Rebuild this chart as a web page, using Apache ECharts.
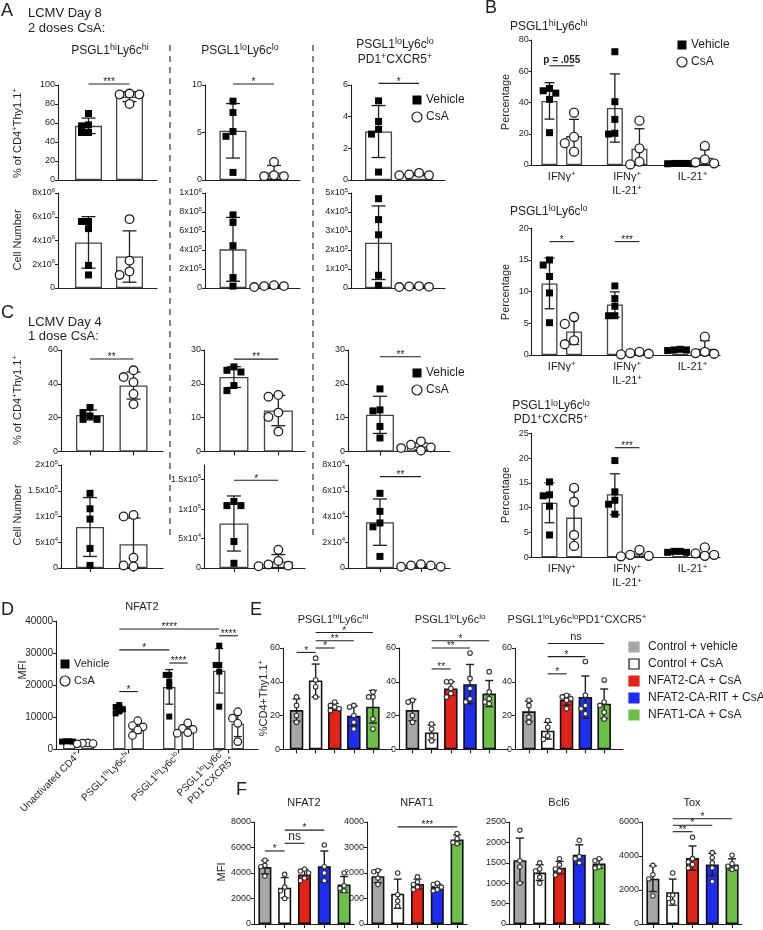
<!DOCTYPE html>
<html>
<head>
<meta charset="utf-8">
<title>CsA / NFAT figure</title>
<script src="https://cdn.jsdelivr.net/npm/echarts/dist/echarts.min.js"></script>
<style>
  html, body { margin: 0; padding: 0; background: #fff; }
  #chart { width: 763px; height: 930px; }
</style>
</head>
<body>
<div id="chart"></div>
<script>
const FONT = '"Liberation Sans", Arial, sans-serif';
const INK = '#1e1e1e';

// ---------- A: LCMV day 8, 2 doses CsA (columns: hi/hi, lo/lo, lo/lo PD1+CXCR5+) ----------
const aPctVeh = [[70, 58, 57, 50, 50], [8.3, 7.1, 5.1, 4.6, 0.8], [5.0, 3.7, 3.2, 2.9, 0.5]];
const aPctCsa = [[91, 90, 90, 80], [1.9, 0.5, 0.4, 0.4], [0.45, 0.35, 0.3, 0.3]];
const aNumVeh = [[5.6e6, 5.6e6, 5.0e6, 1.9e6, 1.1e6], [7.7e5, 6.9e5, 4.45e5, 1.1e5, 2e4], [4.7e5, 3.6e5, 2.8e5, 6.7e4, 1.4e4]];
const aNumCsa = [[5.8e6, 2.3e6, 1.4e6, 1.1e6], [3e4, 2e4, 2e4, 1e4], [1e4, 8e3, 6e3, 5e3]];
const aPctTicks = [[100, 20], [10, 5], [6, 2]];
const aNumTicks = [[8e6, 2e6], [1e6, 2e5], [5e5, 1e5]];
const aPctSig = [[101, '***'], [10.1, '*'], [6.1, '*']];

// ---------- C: LCMV day 4, 1 dose CsA ----------
const cPctVeh = [[26, 23, 21, 19, 19], [25, 24, 23.5, 19.5, 18], [18.5, 12.3, 12, 7.4, 4]];
const cPctCsa = [[48, 44, 41, 34, 28], [16.7, 16.2, 11.5, 10.2, 5.9], [3, 2, 1.2, 1, 0.3]];
const cNumVeh = [[1.45e5, 1.15e5, 9.5e4, 3.8e4, 5e3], [1.13e5, 1.06e5, 1.06e5, 4.5e4, 8e3], [5.8e4, 4.4e4, 3.5e4, 3.2e4, 9e3]];
const cNumCsa = [[1.03e5, 1.0e5, 2e4, 5e3, 3e3], [3.1e4, 1.2e4, 6e3, 4e3, 3e3], [3e3, 2e3, 2e3, 1e3, 1e3]];
const cPctTicks = [[60, 20], [30, 10], [30, 10]];
const cNumTicks = [[2e5, 5e4], [1.75e5, 5e4], [8e4, 2e4]];
const cPctSig = [[54.7, '**'], [27.3, '**'], [28, '**']];
const cNumSig = [null, [1.49e5, '*'], [7.1e4, '**']];

// ---------- B: cytokine producers ----------
const bCats = ['IFNγ{s|+}', 'IFNγ{s|+}\nIL-21{s|+}', 'IL-21{s|+}'];
const b1Veh = [[49, 47.5, 46, 42, 20.7], [72.5, 40.5, 29.2, 20.3, 19.8], [1, 1, 1, 0.8, 0.8]];
const b1Csa = [[33.5, 18, 14, 8.5], [28.4, 10.7, 2.1, 0.4], [12.2, 3.6, 1.7, 1.1]];
const b2Veh = [[15, 14.2, 12.4, 9.8, 5.1], [10.9, 8.9, 7.7, 6.2, 6.2], [0.9, 0.8, 0.8, 0.7]];
const b2Csa = [[6, 4.9, 2.3, 1.7], [0.5, 0.3, 0.2, 0.1], [2.9, 0.5, 0.3, 0.2]];
const b3Veh = [[15.2, 12.6, 12.4, 10.3, 4.5], [19.5, 13.2, 11.5, 10.7, 8.7], [1.2, 1.2, 1, 1]];
const b3Csa = [[14, 11.2, 4.5, 2.3], [1.5, 0.5, 0.3, 0.2], [2, 0.8, 0.5, 0.3]];
const bTicks = [[80, 20], [20, 5], [25, 5]];
const bSig = [[[0, 1, 63.5, 'p = .055']], [[0, 1, 17.9, '*'], [2, 3, 17.9, '***']], [[2, 3, 22.1, '***']]];

// ---------- D: NFAT2 MFI ----------
const dCats = ['Unactivated CD4{s|+}', 'PSGL1{s|hi}Ly6c{s|hi}', 'PSGL1{s|lo}Ly6c{s|lo}', 'PSGL1{s|lo}Ly6c{s|lo}\nPD1{s|+}CXCR5{s|+}'];
const dVeh = [[2500, 2500, 2400, 2400], [13800, 13200, 12500, 11800, 11200], [23200, 23200, 21100, 19600, 10200], [32300, 26300, 26300, 24200, 13300]];
const dCsa = [[2000, 1900, 1800, 1700], [8900, 7400, 7000, 6000, 4300], [8200, 6500, 6200, 5200, 5000], [11700, 9700, 8100, 2400]];
const dSig = [[2, 6, 37500, '****'], [2, 4, 31000, '*'], [4, 5, 26900, '****'], [6, 7, 35400, '****'], [2, 3, 18000, '*']];

// ---------- E: rescue with constitutively active NFAT ----------
const eGroups = ['Control + vehicle', 'Control + CsA', 'NFAT2-CA + CsA', 'NFAT2-CA-RIT + CsA', 'NFAT1-CA + CsA'];
const eColors = ['#a6a6a6', '#ffffff', '#e2231a', '#1f2cf2', '#6dbf47'];
const eTitles = ['PSGL1{s|hi}Ly6c{s|hi}', 'PSGL1{s|lo}Ly6c{s|lo}', 'PSGL1{s|lo}Ly6c{s|lo}PD1{s|+}CXCR5{s|+}'];
const e1 = [[31, 26, 20, 16], [54, 41, 37, 31], [28, 26, 25, 24, 23], [26, 25, 20, 16, 12], [34, 31, 31, 18, 12]];
const e2 = [[29, 28, 20, 16], [15, 12, 8, 5], [40, 40, 36, 33, 31], [57, 42, 36, 30, 28], [46, 34, 30, 28, 27]];
const e3 = [[29, 26, 19, 16], [17, 13, 8, 6], [32, 31, 30, 29, 24], [52, 32, 26, 24, 21], [41, 28, 26, 22, 18]];
const eSig = [
  [[0, 1, 57.4, '*'], [1, 2, 60, '*'], [1, 3, 64.3, '**'], [1, 4, 69.2, '*']],
  [[1, 2, 47.6, '**'], [1, 3, 60, '**'], [1, 4, 64.3, '*']],
  [[1, 2, 44.7, '*'], [1, 3, 54.9, '*'], [1, 4, 62.7, 'ns']]
];

// ---------- F: transcription factor MFI ----------
const fTitles = ['NFAT2', 'NFAT1', 'Bcl6', 'Tox'];
const f1 = [[5000, 4600, 4500, 3750], [3900, 2900, 2600, 2000], [4300, 4150, 4000, 3600, 3400], [6200, 4500, 4000, 3400], [4000, 3000, 2800, 2600]];
const f2 = [[2100, 2050, 1800, 1550], [2000, 1150, 900, 700], [1850, 1650, 1550, 1450, 1350], [1600, 1550, 1450, 1350, 1300], [3550, 3350, 3200, 3150]];
const f3 = [[2300, 1550, 1400, 1000], [1500, 1350, 1300, 1150, 1000], [1600, 1450, 1350, 1300, 1200], [2050, 1650, 1600, 1500], [1600, 1550, 1400, 1370]];
const f4 = [[3450, 2900, 2650, 1650], [3000, 1700, 1500, 1300], [5100, 3850, 3650, 3500, 3300], [4200, 3900, 3600, 3300, 2500], [4050, 3550, 3400, 3300, 3200]];
const fTicks = [[8000, 2000], [4000, 1000], [2500, 500], [6000, 2000]];
const fSig = [
  [[0, 1, 5730, '*'], [1, 2, 6330, 'ns'], [1, 3, 7360, '*']],
  [[1, 4, 3810, '***']],
  [],
  [[1, 2, 5430, '**'], [1, 3, 5810, '*'], [1, 4, 6190, '*']]
];

// ================= helpers =================
const option = { animation: false, textStyle: { fontFamily: FONT }, grid: [], xAxis: [], yAxis: [], series: [], graphic: { elements: [] } };
const G = option.graphic.elements;

function supRich(size) {
  const s = Math.round(size * 0.72);
  return { s: { fontSize: s, lineHeight: s, verticalAlign: 'top', fontFamily: FONT, color: INK, fill: INK } };
}
const mean = a => a.reduce((t, v) => t + v, 0) / a.length;
const sdev = a => { const m = mean(a); return Math.sqrt(a.reduce((t, v) => t + (v - m) * (v - m), 0) / (a.length - 1)); };

function sci(v) {
  if (v === 0) return '0';
  const e = Math.floor(Math.log10(v) + 1e-9);
  const m = +(v / Math.pow(10, e)).toFixed(2);
  return m + 'x10{s|' + e + '}';
}

// simple beeswarm: horizontal pixel offsets, points may overlap a little
function swarm(vals, k, size, step) {
  const placed = [];
  return vals.map(v => {
    const py = v * k;
    for (const n of [0, -1, 1, -2, 2]) {
      const off = n * step;
      if (!placed.some(p => Math.abs(p[0] - off) < step * 0.9 && Math.abs(p[1] - py) < size * 0.8)) {
        placed.push([off, py]);
        return off;
      }
    }
    return 0;
  });
}

function pairBars(veh, csa) {
  return [{ x: 0, vals: veh, fill: '#fff', kind: 0 }, { x: 1, vals: csa, fill: '#fff', kind: 1 }];
}
function groupBars(veh, csa, d) {
  const out = [];
  veh.forEach((v, g) => out.push({ x: g - d, vals: v, fill: '#fff', kind: 0 }, { x: g + d, vals: csa[g], fill: '#fff', kind: 1 }));
  return out;
}
function condBars(groups) {
  return groups.map((v, i) => ({ x: i, vals: v, fill: eColors[i], kind: 2 }));
}

function panel(c) {
  const gi = option.grid.length;
  option.grid.push({ left: c.left, top: c.top, width: c.width, height: c.height });
  const lab = c.xLabels;
  const xf = c.xFont || 11;
  option.xAxis.push({
    type: 'value', gridIndex: gi, min: c.xMin, max: c.xMax,
    splitLine: { show: false },
    axisLine: { onZero: false, lineStyle: { color: INK, width: 1.1 } },
    axisTick: c.showXTicks ? { show: true, customValues: c.xTicks, length: 4, lineStyle: { color: INK, width: 1.1 } } : { show: false },
    axisLabel: lab ? {
      show: true, customValues: c.xTicks, rotate: c.xRotate || 0, fontSize: xf, color: INK, fontFamily: FONT,
      margin: c.xMargin || 6, lineHeight: Math.round(xf * 1.3), rich: supRich(xf),
      formatter: v => lab[Math.round(v)] || ''
    } : { show: false }
  });
  const yf = c.yFont || 9;
  const yAxis = {
    type: 'value', gridIndex: gi, min: 0, max: c.yMax, interval: c.yStep,
    splitLine: { show: false },
    axisLine: { show: true, onZero: false, lineStyle: { color: INK, width: 1.1 } },
    axisTick: { show: true, length: 3, lineStyle: { color: INK, width: 1 } },
    axisLabel: { fontSize: yf, color: INK, fontFamily: FONT, margin: 3, lineHeight: Math.round(yf * 1.35), rich: supRich(yf), formatter: c.yFmt || (v => String(v)) }
  };
  if (c.yTicks) { yAxis.axisTick.customValues = c.yTicks; yAxis.axisLabel.customValues = c.yTicks; }
  option.yAxis.push(yAxis);

  const ax = { xAxisIndex: gi, yAxisIndex: gi, silent: true };
  option.series.push({
    type: 'bar', ...ax, barWidth: c.barW, z: 2,
    data: c.bars.map(b => ({ value: [b.x, mean(b.vals)], itemStyle: { color: b.fill, borderColor: c.edge, borderWidth: c.edgeW } }))
  });

  // error bars (mean ± SD)
  option.series.push({
    type: 'custom', ...ax, z: 3, clip: false, encode: { x: 0, y: 1 },
    data: c.bars.map(b => [b.x, mean(b.vals), sdev(b.vals)]),
    renderItem: (p, api) => {
      const x = api.value(0), m = api.value(1), s = api.value(2);
      const t = api.coord([x, m + s]), b = api.coord([x, Math.max(0, m - s)]);
      const h = c.capW / 2, st = { stroke: INK, lineWidth: c.errW };
      return { type: 'group', children: [
        { type: 'line', shape: { x1: t[0], y1: t[1], x2: b[0], y2: b[1] }, style: st },
        { type: 'line', shape: { x1: t[0] - h, y1: t[1], x2: t[0] + h, y2: t[1] }, style: st },
        { type: 'line', shape: { x1: b[0] - h, y1: b[1], x2: b[0] + h, y2: b[1] }, style: st }
      ] };
    }
  });

  // individual animals
  const pts = [];
  c.bars.forEach(b => {
    const size = b.kind === 0 ? c.sq : 2 * c.r + c.cw;
    const jit = swarm(b.vals, c.height / c.yMax, size, size * (c.jit || 0.8));
    b.vals.forEach((v, i) => pts.push([b.x, v, jit[i], b.kind]));
  });
  option.series.push({
    type: 'custom', ...ax, z: 4, clip: false, encode: { x: 0, y: 1 },
    data: pts,
    renderItem: (p, api) => {
      const q = api.coord([api.value(0), api.value(1)]);
      const x = q[0] + api.value(2), y = q[1], k = api.value(3);
      if (k === 0) return { type: 'rect', shape: { x: x - c.sq / 2, y: y - c.sq / 2, width: c.sq, height: c.sq }, style: { fill: '#000' } };
      return { type: 'circle', shape: { cx: x, cy: y, r: c.r }, style: { fill: '#fff', stroke: k === 2 ? '#333' : INK, lineWidth: c.cw } };
    }
  });

  // significance brackets
  if (c.sig && c.sig.length) option.series.push({
    type: 'custom', ...ax, z: 5, clip: false, encode: { x: 0, y: 1 },
    data: c.sig.map(s => [c.bars[s[0]].x, s[2]]),
    renderItem: (p, api) => {
      const s = c.sig[p.dataIndex];
      const a = api.coord([c.bars[s[0]].x, s[2]]), b = api.coord([c.bars[s[1]].x, s[2]]);
      const stars = /^\*+$/.test(s[3]);
      const fs = stars ? (c.starFont || 10) : (s[3] === 'ns' ? (c.nsFont || 11) : 10);
      return { type: 'group', children: [
        { type: 'line', shape: { x1: a[0], y1: a[1], x2: b[0], y2: b[1] }, style: { stroke: INK, lineWidth: 1.1 } },
        { type: 'text', x: (a[0] + b[0]) / 2, y: stars ? a[1] + fs * 0.35 : a[1] - 1,
          style: { text: s[3], fontSize: fs, fontFamily: FONT, fontWeight: s[3][0] === 'p' ? 'bold' : 'normal', fill: INK,
            align: 'center', textAlign: 'center', verticalAlign: 'bottom', textVerticalAlign: 'bottom' } }
      ] };
    }
  });
}

function gtext(x, y, text, size, o = {}) {
  G.push({ type: 'text', x, y, rotation: o.rot || 0, silent: true, z: 50,
    style: { text, fontSize: size, fontFamily: FONT, fontWeight: 'normal', fill: INK,
      align: o.align || 'left', textAlign: o.align || 'left', verticalAlign: o.va || 'middle', textVerticalAlign: o.va || 'middle',
      lineHeight: Math.round(size * (o.lh || 1.3)), rich: supRich(size) } });
}
function legendSq(x, y, label, size) {
  G.push({ type: 'rect', x: x - 4.5, y: y - 4.5, shape: { width: 9, height: 9 }, style: { fill: '#000' }, silent: true });
  gtext(x + 9, y, label, size);
}
function legendCi(x, y, label, size) {
  G.push({ type: 'circle', x, y, shape: { r: 5 }, style: { fill: '#fff', stroke: INK, lineWidth: 1.2 }, silent: true });
  gtext(x + 9, y, label, size);
}

// ================= panel A =================
const pairStyle = { barW: 27, capW: 14, edge: '#444', edgeW: 1.3, sq: 7, r: 4.3, cw: 1.3, errW: 1.3, jit: 1.0 };
const aCols = [
  { left: 58, width: 99, xMin: -0.744, xMax: 1.671 },
  { left: 205, width: 95, xMin: -0.683, xMax: 1.634 },
  { left: 351, width: 94, xMin: -0.68, xMax: 1.64 }
];
aCols.forEach((col, i) => {
  panel({ ...pairStyle, ...col, top: 85, height: 95, yMax: aPctTicks[i][0], yStep: aPctTicks[i][1],
    bars: pairBars(aPctVeh[i], aPctCsa[i]), sig: [[0, 1, aPctSig[i][0], aPctSig[i][1]]] });
  panel({ ...pairStyle, ...col, top: 193, height: 95, yMax: aNumTicks[i][0], yStep: aNumTicks[i][1], yFmt: sci,
    bars: pairBars(aNumVeh[i], aNumCsa[i]) });
});

// ================= panel C =================
const cCols = [
  { left: 61, width: 102, xMin: -0.667, xMax: 1.678, barW: 28 },
  { left: 204, width: 101, xMin: -0.674, xMax: 1.6, barW: 29 },
  { left: 348, width: 102, xMin: -0.78, xMax: 1.71, barW: 28 }
];
cCols.forEach((col, i) => {
  panel({ ...pairStyle, ...col, top: 350, height: 101.5, yMax: cPctTicks[i][0], yStep: cPctTicks[i][1],
    xTicks: [0, 1], showXTicks: true, bars: pairBars(cPctVeh[i], cPctCsa[i]), sig: [[0, 1, cPctSig[i][0], cPctSig[i][1]]] });
  const numCfg = { ...pairStyle, ...col, top: 465, height: 103, yMax: cNumTicks[i][0], yStep: cNumTicks[i][1], yFmt: sci,
    xTicks: [0, 1], showXTicks: true, bars: pairBars(cNumVeh[i], cNumCsa[i]), sig: cNumSig[i] ? [[0, 1, cNumSig[i][0], cNumSig[i][1]]] : [] };
  if (i === 1) numCfg.yTicks = [0, 5e4, 1e5, 1.5e5];
  panel(numCfg);
});

// ================= panel B =================
const bTops = [[40, 125], [228.3, 126.7], [433.3, 124]];
[[b1Veh, b1Csa], [b2Veh, b2Csa], [b3Veh, b3Csa]].forEach(([veh, csa], i) => {
  panel({ left: 531.7, width: 188.3, top: bTops[i][0], height: bTops[i][1], xMin: -0.46, xMax: 2.42,
    yMax: bTicks[i][0], yStep: bTicks[i][1], barW: 16, capW: 10, edge: '#444', edgeW: 1.3, sq: 7, r: 4.5, cw: 1.3, errW: 1.3, jit: 0.9,
    xTicks: [0, 1, 2], xLabels: bCats, xFont: 11, xMargin: 5,
    bars: groupBars(veh, csa, 0.188), sig: bSig[i] });
});

// ================= panel D =================
panel({ left: 56, width: 202, top: 621, height: 128.3, xMin: -0.45, xMax: 3.59, yMax: 40000, yStep: 10000, yFont: 10,
  barW: 12.5, capW: 8, edge: '#444', edgeW: 1.3, sq: 6, r: 3.8, cw: 1.2, errW: 1.3, jit: 0.6,
  xTicks: [0, 1, 2, 3], showXTicks: true, xLabels: dCats, xRotate: 45, xFont: 10, xMargin: 5,
  bars: groupBars(dVeh, dCsa, 0.185), sig: dSig });

// ================= panel E =================
const eCols = [
  { left: 283, width: 109, xMin: -0.71, xMax: 5.0 },
  { left: 399, width: 109, xMin: -0.70, xMax: 4.98 },
  { left: 515, width: 108, xMin: -0.74, xMax: 5.0 }
];
[e1, e2, e3].forEach((d, i) => {
  panel({ ...eCols[i], top: 648, height: 101.3, yMax: 60, yStep: 20, barW: 13.5, capW: 8, edge: '#111', edgeW: 1.6,
    sq: 5, r: 2.3, cw: 1.1, errW: 1.4, jit: 0.75, xTicks: [0, 1, 2, 3, 4], showXTicks: true, starFont: 10,
    bars: condBars(d), sig: eSig[i] });
});

// ================= panel F =================
const fLefts = [254, 367, 509, 642];
[f1, f2, f3, f4].forEach((d, i) => {
  panel({ left: fLefts[i], width: 100, top: 822, height: 104.7, xMin: -0.55, xMax: 4.5,
    yMax: fTicks[i][0], yStep: fTicks[i][1], barW: 13, capW: 8, edge: '#111', edgeW: 1.6,
    sq: 5, r: 2.2, cw: 1.1, errW: 1.4, jit: 0.75, xTicks: [0, 1, 2, 3, 4], showXTicks: true, nsFont: 12,
    bars: condBars(d), sig: fSig[i] });
});

// ================= text, legends, separators =================
const PCT = '% of CD4{s|+}Thy1.1{s|+}';
gtext(1, 11, 'A', 18);
gtext(28, 13, 'LCMV Day 8', 13);
gtext(28, 28, '2 doses CsA:', 13);
gtext(110, 51, 'PSGL1{s|hi}Ly6c{s|hi}', 12, { align: 'center' });
gtext(240, 51, 'PSGL1{s|lo}Ly6c{s|lo}', 12, { align: 'center' });
gtext(395, 52, 'PSGL1{s|lo}Ly6c{s|lo}\nPD1{s|+}CXCR5{s|+}', 12, { align: 'center', lh: 1.25 });
gtext(18, 133, PCT, 11, { align: 'center', rot: Math.PI / 2 });
gtext(18, 240, 'Cell Number', 11, { align: 'center', rot: Math.PI / 2 });
legendSq(417, 100, 'Vehicle', 12);
legendCi(417, 117, 'CsA', 12);

gtext(1, 313, 'C', 18);
gtext(28, 322, 'LCMV Day 4', 13);
gtext(28, 336, '1 dose CsA:', 13);
gtext(18, 400, PCT, 11, { align: 'center', rot: Math.PI / 2 });
gtext(18, 515, 'Cell Number', 11, { align: 'center', rot: Math.PI / 2 });
legendSq(417, 373, 'Vehicle', 12);
legendCi(417, 390, 'CsA', 12);

[170, 313].forEach(x => G.push({ type: 'line', silent: true, shape: { x1: x, y1: 45, x2: x, y2: 537 },
  style: { stroke: '#333', lineWidth: 1.2, lineDash: [6, 5] } }));

gtext(485, 8, 'B', 18);
gtext(510, 27, 'PSGL1{s|hi}Ly6c{s|hi}', 12);
gtext(510, 212, 'PSGL1{s|lo}Ly6c{s|lo}', 12);
gtext(551, 413, 'PSGL1{s|lo}Ly6c{s|lo}\nPD1{s|+}CXCR5{s|+}', 12, { align: 'center', lh: 1.15 });
[102, 292, 495].forEach(y => gtext(506, y, 'Percentage', 11, { align: 'center', rot: Math.PI / 2 }));
legendSq(682, 45, 'Vehicle', 12);
legendCi(682, 62, 'CsA', 12);

gtext(1, 610, 'D', 18);
gtext(142, 607, 'NFAT2', 11, { align: 'center' });
gtext(23, 670, 'MFI', 11, { align: 'center', rot: Math.PI / 2 });
legendSq(65, 664, 'Vehicle', 11);
legendCi(65, 681, 'CsA', 11);

gtext(250, 610, 'E', 18);
[333, 450, 577].forEach((x, i) => gtext(x, 620, eTitles[i], 11, { align: 'center' }));
gtext(264, 698, '%CD4+Thy1.1{s|+}', 11, { align: 'center', rot: Math.PI / 2 });
eGroups.forEach((g, i) => {
  const y = 647 + i * 17;
  G.push({ type: 'rect', x: 629, y: y - 5, shape: { width: 10, height: 10 }, silent: true,
    style: { fill: eColors[i], stroke: i === 1 ? '#111' : eColors[i], lineWidth: 1.2 } });
  gtext(648, y, g, 12);
});

gtext(236, 790, 'F', 18);
fLefts.forEach((x, i) => gtext(x + 50, 803, fTitles[i], 11, { align: 'center' }));
gtext(222, 872, 'MFI', 11, { align: 'center', rot: Math.PI / 2 });

const chart = echarts.init(document.getElementById('chart'));
chart.setOption(option);
</script>
</body>
</html>
